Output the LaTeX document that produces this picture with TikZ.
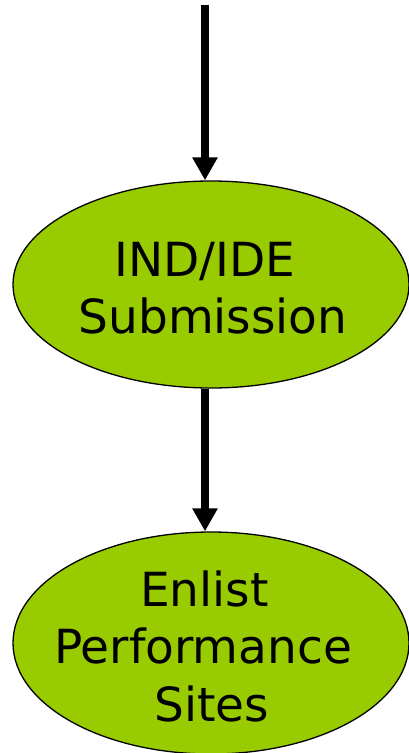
\documentclass[tikz,border=0pt]{standalone}
\usepackage{fontspec}
\setmainfont{DejaVu Sans}
\usetikzlibrary{shapes.geometric,arrows.meta}
\definecolor{leaf}{HTML}{99CC00}
\tikzset{
  stage/.style={ellipse,draw=black,line width=1.3pt,fill=leaf,inner sep=0pt,minimum width=396pt},
  lbl/.style={anchor=base,inner sep=0pt,font=\fontsize{47}{57}\selectfont},
  arr/.style={line width=8pt,-{Triangle[width=24pt,length=23pt]}}
}
\begin{document}
\begin{tikzpicture}[x=1pt,y=-1pt]
\clip (0,0) rectangle (409,753);
\useasboundingbox (0,0) rectangle (409,753);
\fill[white] (0,0) rectangle (409,753);
\coordinate (top) at (205,5);
\node[stage,minimum height=207pt] (e1) at (211,284.5) {};
\node[stage,minimum height=222pt] (e2) at (211,643) {};
\node[lbl] (t1) at (205,276) {IND/IDE};
\node[lbl] (t2) at (213,333) {Submission};
\node[lbl] (t3) at (204.5,606) {Enlist};
\node[lbl] (t4) at (203,663) {Performance};
\node[lbl] (t5) at (212,721) {Sites};
\draw[arr] (top) -- (top |- e1.north);
\draw[arr] (e1.south -| top) -- (e2.north -| top);
\end{tikzpicture}
\end{document}
